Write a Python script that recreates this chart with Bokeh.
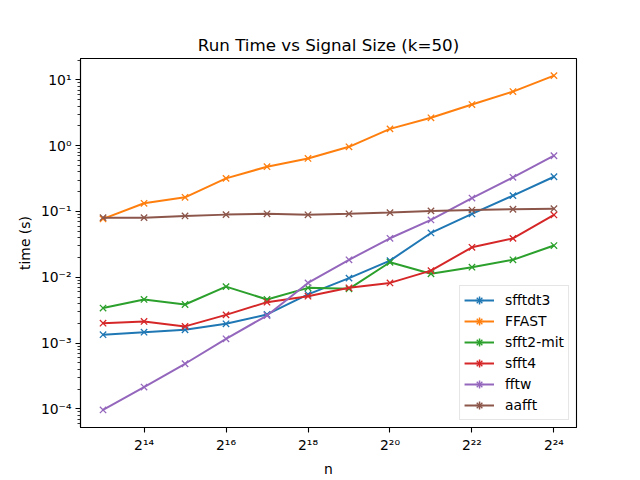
import math
from bokeh.plotting import figure
from bokeh.models import (Range1d, FixedTicker, CustomJSTickFormatter, Legend, LegendItem,
                          ColumnDataSource)
from bokeh.embed import file_html
from bokeh.resources import INLINE

# ---- data ----
exponents = [13, 14, 15, 16, 17, 18, 19, 20, 21, 22, 23, 24]
sfftdt3 = [0.00134, 0.00146, 0.00159, 0.00196, 0.00272, 0.0055, 0.0097, 0.0179, 0.0471, 0.0916, 0.174, 0.337]
ffast = [0.077, 0.133, 0.164, 0.318, 0.479, 0.640, 0.96, 1.80, 2.65, 4.22, 6.64, 11.6]
sfft2_mit = [0.0034, 0.0046, 0.00385, 0.0072, 0.0046, 0.0069, 0.00667, 0.0169, 0.0113, 0.0142, 0.0184, 0.0303]
sfft4 = [0.0020, 0.00213, 0.00179, 0.00268, 0.00418, 0.00515, 0.0069, 0.0082, 0.0126, 0.0285, 0.039, 0.0885]
fftw = [9.6e-5, 2.14e-4, 4.84e-4, 1.16e-3, 2.62e-3, 8.2e-3, 0.0184, 0.0391, 0.0743, 0.160, 0.330, 0.703]
aafft = [0.0805, 0.0805, 0.0855, 0.0895, 0.092, 0.089, 0.092, 0.096, 0.102, 0.105, 0.108, 0.110]

series_names = ["sfftdt3", "FFAST", "sfft2-mit", "sfft4", "fftw", "aafft"]
series_values = [sfftdt3, ffast, sfft2_mit, sfft4, fftw, aafft]
colors = ["#1f77b4", "#ff7f0e", "#2ca02c", "#d62728", "#9467bd", "#8c564b"]

x_tick_exps = [14, 16, 18, 20, 22, 24]
y_tick_exps = [-4, -3, -2, -1, 0, 1]

n_values = [2 ** e for e in exponents]

p = figure(width=640, height=480, output_backend="svg", toolbar_location=None,
           x_axis_type="log", y_axis_type="log",
           x_range=Range1d(2 ** 12.45, 2 ** 24.55),
           y_range=Range1d(10 ** -4.284, 10 ** 1.325),
           title="Run Time vs Signal Size (k=50)",
           min_border_left=80, min_border_right=64, min_border_top=58, min_border_bottom=53)

p.background_fill_color = "white"
p.border_fill_color = "white"
p.outline_line_color = "black"
p.outline_line_width = 1.1
p.xgrid.visible = False
p.ygrid.visible = False

p.title.align = "center"
p.title.text_font = "DejaVu Sans"
p.title.text_font_size = "16.7px"
p.title.text_font_style = "normal"
p.title.text_color = "black"
p.title.standoff = 8

sup_code = """
const m = {'0':'\u2070','1':'\u00b9','2':'\u00b2','3':'\u00b3','4':'\u2074','5':'\u2075','6':'\u2076','7':'\u2077','8':'\u2078','9':'\u2079','-':'\u207b'};
const e = Math.round(Math.log(tick)/Math.log(base));
return String(base) + String(e).split('').map(c => m[c]).join('');
"""
sup = CustomJSTickFormatter(args=dict(base=2), code=sup_code)
supy = CustomJSTickFormatter(args=dict(base=10), code=sup_code)

xa = p.xaxis[0]
xa.ticker = FixedTicker(ticks=[2 ** e for e in x_tick_exps], minor_ticks=[])
xa.formatter = sup
ya = p.yaxis[0]
minor = [k * 10.0 ** e for e in range(-5, 2) for k in range(2, 10)]
ya.ticker = FixedTicker(ticks=[10.0 ** e for e in y_tick_exps], minor_ticks=minor)
ya.formatter = supy

for ax in (xa, ya):
    ax.axis_line_color = "black"
    ax.axis_line_width = 1.1
    ax.major_tick_line_color = "black"
    ax.major_tick_line_width = 1.1
    ax.minor_tick_line_color = "black"
    ax.minor_tick_line_width = 0.8
    ax.major_tick_in = 0
    ax.major_tick_out = 5
    ax.minor_tick_in = 0
    ax.minor_tick_out = 3
    ax.major_label_text_font = "DejaVu Sans"
    ax.major_label_text_font_size = "13.9px"
    ax.major_label_text_color = "black"
    ax.axis_label_text_font = "DejaVu Sans"
    ax.axis_label_text_font_size = "13.9px"
    ax.axis_label_text_font_style = "normal"
    ax.axis_label_text_color = "black"
    ax.major_label_standoff = 4
    ax.axis_label_standoff = 5

xa.axis_label = "n"
ya.axis_label = "time (s)"

items = []
for name, vals, col in zip(series_names, series_values, colors):
    src = ColumnDataSource(dict(x=n_values, y=vals))
    ln = p.line("x", "y", source=src, line_color=col, line_width=2)
    sc = p.scatter("x", "y", source=src, marker="x", size=9, line_color=col, line_width=1.3)
    # legend-only error-bar tick: all points selected and drawn with an invisible selection glyph
    src2 = ColumnDataSource(dict(x=n_values, y=vals))
    src2.selected.indices = list(range(len(n_values)))
    vb = p.scatter("x", "y", source=src2, marker="cross", size=9,
                   line_color=col, line_width=1.5,
                   selection_line_alpha=0.0, selection_fill_alpha=0.0,
                   nonselection_line_alpha=0.0, nonselection_fill_alpha=0.0)
    items.append(LegendItem(label=name, renderers=[ln, sc, vb]))

legend = Legend(items=items, location="bottom_right")
legend.label_text_font = "DejaVu Sans"
legend.label_text_font_size = "13.9px"
legend.label_text_color = "black"
legend.glyph_width = 30
legend.glyph_height = 20
legend.label_height = 20
legend.spacing = 1
legend.padding = 4
legend.margin = 7
legend.label_standoff = 11
legend.border_line_color = "#cccccc"
legend.border_line_width = 1
legend.background_fill_color = "white"
legend.background_fill_alpha = 0.8
p.add_layout(legend)

open("out.html", "w").write(file_html(p, INLINE))
